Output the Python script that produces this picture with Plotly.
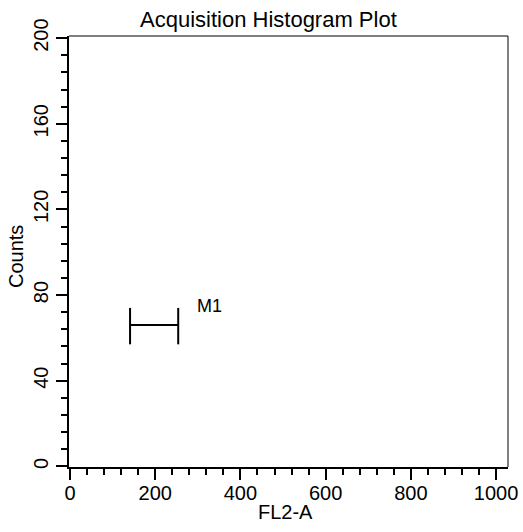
import plotly.graph_objects as go

# ---- data ----
title_text = "Acquisition Histogram Plot"
x_label = "FL2-A"
y_label = "Counts"
x_ticks = [0, 200, 400, 600, 800, 1000]
y_ticks = [0, 40, 80, 120, 160, 200]
# histogram counts: the acquisition plot is empty
hist_x = []
hist_counts = []
# marker M1 (range gate)
marker_name = "M1"
marker_left = 141
marker_right = 254
marker_y = 66
marker_cap_low = 57
marker_cap_high = 74
marker_label_x = 293
marker_label_y = 75

FONT = "Liberation Sans, Arial, sans-serif"
W, H = 523, 532
L, R, T, B = 69, 15, 36, 65

fig = go.Figure()

fig.add_trace(go.Bar(x=hist_x, y=hist_counts, marker_color="black", showlegend=False))

# gate marker: horizontal bar with end caps
fig.add_trace(go.Scatter(
    x=[marker_left, marker_left, None, marker_left, marker_right, None, marker_right, marker_right],
    y=[marker_cap_low, marker_cap_high, None, marker_y, marker_y, None, marker_cap_low, marker_cap_high],
    mode="lines", line=dict(color="black", width=2), showlegend=False, hoverinfo="skip",
))

fig.add_annotation(x=marker_label_x, y=marker_label_y, text=marker_name, showarrow=False,
                   xanchor="left", yanchor="middle", font=dict(family=FONT, size=18, color="black"))

# axis titles and chart title (placed in paper coords)
pw, ph = W - L - R, H - T - B
def px_to_paper_x(px):
    return (px - L) / pw
def px_to_paper_y(py):
    return (H - B - py) / ph

fig.add_annotation(x=px_to_paper_x(268), y=px_to_paper_y(19), xref="paper", yref="paper",
                   text=title_text, showarrow=False, xanchor="center", yanchor="middle",
                   font=dict(family=FONT, size=22, color="black"))
fig.add_annotation(x=px_to_paper_x(285), y=px_to_paper_y(512), xref="paper", yref="paper",
                   text=x_label, showarrow=False, xanchor="center", yanchor="middle",
                   font=dict(family=FONT, size=20, color="black"))
fig.add_annotation(x=px_to_paper_x(16), y=px_to_paper_y(257), xref="paper", yref="paper",
                   text=y_label, showarrow=False, xanchor="center", yanchor="middle", textangle=-90,
                   font=dict(family=FONT, size=20, color="black"))

# thin top and right border
fig.add_shape(type="line", xref="paper", yref="paper", x0=0, x1=1, y0=1, y1=1,
              line=dict(color="black", width=1))
fig.add_shape(type="line", xref="paper", yref="paper", x0=1, x1=1, y0=0, y1=1,
              line=dict(color="black", width=1))

fig.update_layout(
    width=W, height=H,
    margin=dict(l=L, r=R, t=T, b=B, autoexpand=False),
    paper_bgcolor="white", plot_bgcolor="white",
    font=dict(family=FONT, size=20, color="black"),
    showlegend=False,
)

fig.update_xaxes(
    range=[-2.3, 1028], tickmode="array", tickvals=x_ticks, ticktext=[str(v) for v in x_ticks],
    showgrid=False, zeroline=False, showline=True, linecolor="black", linewidth=2,
    ticks="outside", ticklen=11, tickwidth=2, tickcolor="black", automargin=False,
    ticklabelstandoff=-4,
    minor=dict(dtick=40, tick0=0, ticks="outside", ticklen=6, tickwidth=2, tickcolor="black", showgrid=False),
    tickfont=dict(family=FONT, size=20),
)
fig.update_yaxes(
    range=[-0.3, 201], tickmode="array", tickvals=y_ticks, ticktext=[str(v) for v in y_ticks],
    showgrid=False, zeroline=False, showline=True, linecolor="black", linewidth=2,
    ticks="outside", ticklen=11, tickwidth=2, tickcolor="black", tickangle=-90, automargin=False,
    minor=dict(dtick=8, tick0=0, ticks="outside", ticklen=6, tickwidth=2, tickcolor="black", showgrid=False),
    tickfont=dict(family=FONT, size=20),
)

fig.write_html(
    "out.html",
    config={"displayModeBar": False},
    post_script="document.body.style.margin='0';document.body.style.overflow='hidden';",
)
